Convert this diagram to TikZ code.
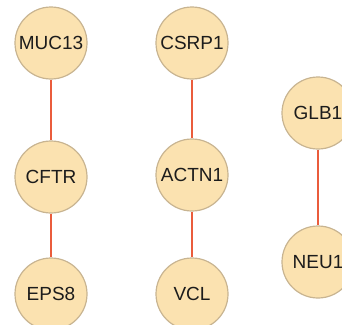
\documentclass[tikz,border=0pt]{standalone}
\usepackage{fontspec}
\setmainfont{Liberation Sans}
\definecolor{nodefill}{RGB}{251,226,176}
\definecolor{nodeborder}{RGB}{200,180,145}
\definecolor{edgecol}{RGB}{234,92,60}
\definecolor{txt}{RGB}{28,28,28}
\begin{document}
\begin{tikzpicture}[x=1pt,y=-1pt,
  gene/.style={circle,draw=nodeborder,fill=nodefill,line width=1.2pt,minimum size=72pt,inner sep=0pt,text=txt,font=\fontsize{19}{19}\selectfont},
  link/.style={draw=edgecol,line width=1.6pt}]
\useasboundingbox (0,0) rectangle (342,324);
\node[gene] (muc13) at (51,43) {MUC13};
\node[gene] (cftr) at (51,177) {CFTR};
\node[gene] (eps8) at (51,294) {EPS8};
\node[gene] (csrp1) at (192,43) {CSRP1};
\node[gene] (actn1) at (192,175) {ACTN1};
\node[gene] (vcl) at (192,294) {VCL};
\node[gene] (glb1) at (318,113) {GLB1};
\node[gene] (neu1) at (318,262) {NEU1};
\path[link] (muc13) -- (cftr);
\path[link] (cftr) -- (eps8);
\path[link] (csrp1) -- (actn1);
\path[link] (actn1) -- (vcl);
\path[link] (glb1) -- (neu1);
\end{tikzpicture}
\end{document}
